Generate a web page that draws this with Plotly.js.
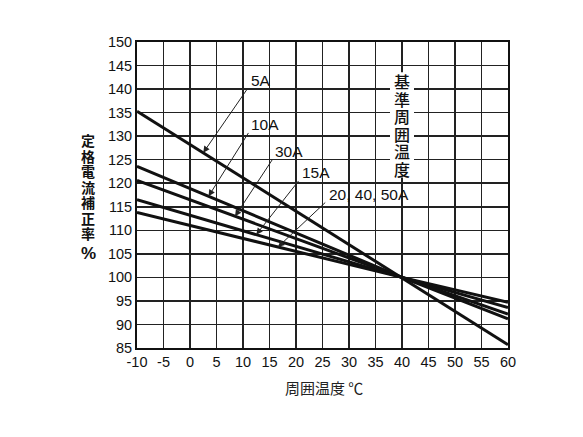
<!DOCTYPE html>
<html>
<head>
<meta charset="utf-8">
<script src="https://cdn.plot.ly/plotly-3.0.1.min.js"></script>
<style>
  html, body { margin: 0; padding: 0; background: #fff; }
  #chart { width: 583px; height: 437px; }
</style>
</head>
<body>
<div id="chart"></div>
<script>
// ambient temperature (deg C)
const temps = [-10, 40, 60]

// rated current correction (%) for each current rating
const seriesNames = ["5A", "10A", "30A", "15A", "20, 40, 50A"]
const curve5A = [135.3, 100, 85.7]
const curve10A = [123.6, 100, 91.2]
const curve30A = [120.6, 100, 92.2]
const curve15A = [116.5, 100, 93.6]
const curve20A = [113.8, 100, 94.7]

// where each leader arrow touches its curve (x) and where its label sits
const arrowHeadX = [2.5, 3.5, 8.5, 12.5, 16.6]
const arrowTailX = [11.1, 11.2, 15.7, 20.7, 25.8]
const arrowTailY = [140.5, 131.0, 125.3, 120.8, 116.2]

const xTicks = [-10, -5, 0, 5, 10, 15, 20, 25, 30, 35, 40, 45, 50, 55, 60]
const yTicks = [85, 90, 95, 100, 105, 110, 115, 120, 125, 130, 135, 140, 145, 150]

const yTitleChars = ["定", "格", "電", "流", "補", "正", "率"]
const refChars = ["基", "準", "周", "囲", "温", "度"]

const curves = [curve5A, curve10A, curve30A, curve15A, curve20A]

function valueAt(curve, x) {
	for (let i = 0; i < temps.length - 1; i++) {
		if (x >= temps[i] && x <= temps[i + 1]) {
			const t = (x - temps[i]) / (temps[i + 1] - temps[i])
			return curve[i] + t * (curve[i + 1] - curve[i])
		}
	}
	return curve[curve.length - 1]
}

// plot area is 306px tall for 65 units
const PX = 65 / 306

const FONT = '"Liberation Sans", Arial, "Noto Sans CJK JP", sans-serif'
const CJK = '"Noto Sans CJK JP", "Liberation Sans", sans-serif'

const data = curves.map((c, i) => ({
	x: temps,
	y: c,
	name: seriesNames[i],
	type: 'scatter',
	mode: 'lines',
	line: { color: '#111', width: 3 },
	hoverinfo: 'skip'
}))

const annotations = []
const shapes = []

curves.forEach((c, i) => {
	const hx = arrowHeadX[i]
	annotations.push({
		x: hx, y: valueAt(c, hx), xref: 'x', yref: 'y',
		ax: arrowTailX[i], ay: arrowTailY[i], axref: 'x', ayref: 'y',
		text: '', showarrow: true,
		arrowhead: 2, arrowsize: 1.3, arrowwidth: 1, arrowcolor: '#222',
		standoff: 0, startstandoff: 0
	})
	annotations.push({
		x: arrowTailX[i], y: arrowTailY[i], xref: 'x', yref: 'y',
		text: seriesNames[i], showarrow: false,
		xanchor: 'left', yanchor: 'bottom', yshift: -4,
		font: { family: FONT, size: 15.5, color: '#111' }
	})
})

// vertical label at the reference temperature, white strip behind it
shapes.push({
	type: 'rect', xref: 'x', yref: 'y', layer: 'above',
	xsizemode: 'pixel', xanchor: 40, x0: -12, x1: 12,
	y0: 121.2, y1: 143.6,
	fillcolor: '#fff', line: { width: 0 }
})
refChars.forEach((ch, i) => {
	annotations.push({
		x: 40, y: 150 - (81 - 42 + 17.5 * i) * PX, xref: 'x', yref: 'y',
		xanchor: 'center', yanchor: 'middle',
		text: ch, showarrow: false,
		font: { family: CJK, size: 16, color: '#111', weight: 500 }
	})
})

// y axis title, stacked vertically
yTitleChars.forEach((ch, i) => {
	annotations.push({
		x: -0.131, xref: 'paper', yref: 'y',
		y: 150 - (140 - 42 + 15.5 * i) * PX,
		xanchor: 'center', yanchor: 'middle',
		text: ch, showarrow: false,
		font: { family: CJK, size: 14, color: '#111', weight: 700 }
	})
})
annotations.push({
	x: -0.131, xref: 'paper', yref: 'y',
	y: 150 - (253 - 42) * PX,
	xanchor: 'center', yanchor: 'middle',
	text: '%', showarrow: false,
	font: { family: FONT, size: 17, color: '#111', weight: 700 }
})

// x axis title
annotations.push({
	x: 0.505, y: -0.13, xref: 'paper', yref: 'paper',
	xanchor: 'center', yanchor: 'middle',
	text: '周囲温度 ℃', showarrow: false,
	font: { family: CJK, size: 15, color: '#222' }
})

const layout = {
	width: 583,
	height: 437,
	margin: { l: 137, r: 75, t: 42, b: 89 },
	paper_bgcolor: '#fff',
	plot_bgcolor: '#fff',
	showlegend: false,
	xaxis: {
		range: [-10, 60],
		tickvals: xTicks,
		ticktext: xTicks.map(String),
		showgrid: true, gridcolor: '#222', gridwidth: 1.5,
		zeroline: false,
		showline: true, linecolor: '#111', linewidth: 2, mirror: true,
		ticks: '', ticklen: 0,
		tickfont: { family: FONT, size: 14.5, color: '#111' }
	},
	yaxis: {
		range: [85, 150],
		tickvals: yTicks,
		ticktext: yTicks.map(String),
		showgrid: true, gridcolor: '#222', gridwidth: 1.5,
		zeroline: false,
		showline: true, linecolor: '#111', linewidth: 2, mirror: true,
		ticks: '', ticklen: 0,
		tickfont: { family: FONT, size: 14.5, color: '#111' }
	},
	shapes: shapes,
	annotations: annotations
}

Plotly.newPlot('chart', data, layout, { displayModeBar: false, staticPlot: true })
</script>
</body>
</html>
